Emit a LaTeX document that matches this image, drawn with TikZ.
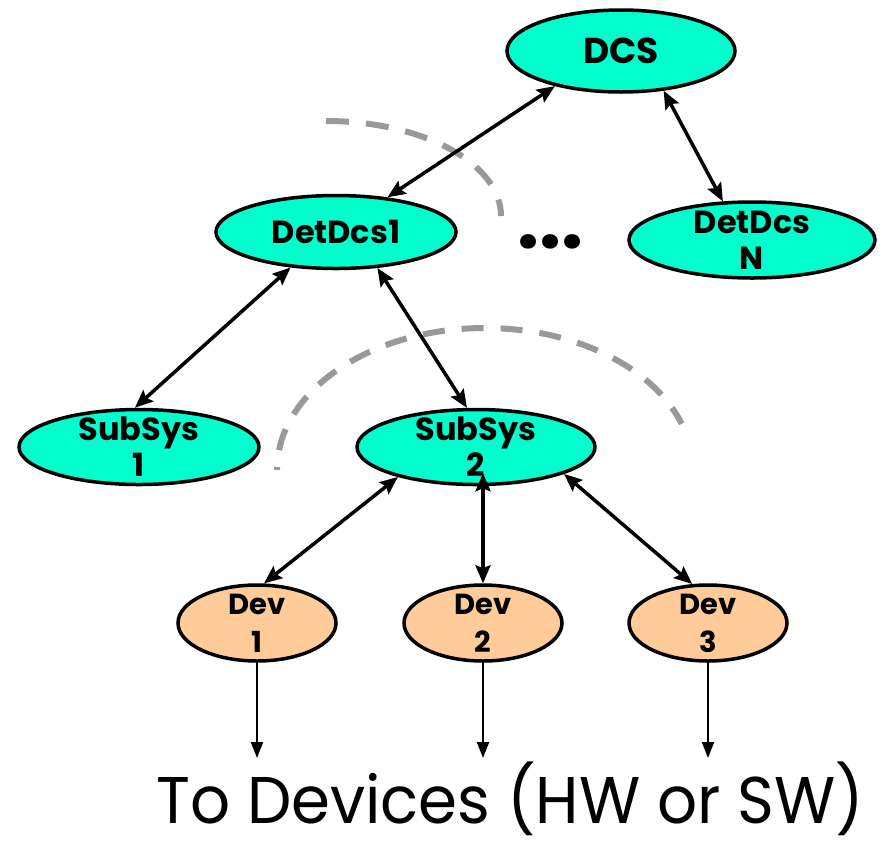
\documentclass[tikz,border=0pt]{standalone}
\usepackage{fontspec}
\setmainfont{Poppins}
\usetikzlibrary{arrows.meta,shapes.geometric}

\definecolor{aqua}{RGB}{0,255,204}
\definecolor{peach}{RGB}{255,204,153}
\definecolor{sepgray}{RGB}{153,153,153}

\begin{document}
\begin{tikzpicture}[x=1pt,y=-1pt,
  ctl/.style={ellipse, draw=black, line width=3.5pt, fill=aqua, align=center,
    inner xsep=0pt, inner ysep=-14pt,
    font=\fontsize{32}{36}\selectfont\bfseries},
  devbox/.style={ellipse, draw=black, line width=3.5pt, fill=peach, align=center,
    inner xsep=0pt, inner ysep=-14pt, minimum width=158pt, minimum height=76pt,
    font=\fontsize{29}{38}\selectfont\bfseries},
  link/.style={line width=3.5pt,
    {Stealth[length=18pt,width=15pt,inset=3pt]}-{Stealth[length=18pt,width=15pt,inset=3pt]}},
  feed/.style={line width=2pt, -{Triangle[length=16pt,width=12pt]}},
  boundary/.style={draw=sepgray, line width=6pt},
]
\useasboundingbox (0,0) rectangle (885,844);

% layer boundaries (dashed arcs)
\draw[boundary, dash pattern=on 23pt off 17pt]
  (326,121) arc[start angle=-90, end angle=0, x radius=175, y radius=95];
\draw[boundary, dash pattern=on 22pt off 17pt, dash phase=19pt]
  (277,470) arc[start angle=180, end angle=341, x radius=208, y radius=142];

% control hierarchy
\node[ctl, minimum width=228pt, minimum height=82pt, font=\fontsize{36}{40}\selectfont\bfseries] (dcs) at (621,51) {DCS};
\node[ctl, minimum width=240pt, minimum height=73pt] (det1) at (336,232) {DetDcs1};
\node[ctl, minimum width=246pt, minimum height=76pt] (detN) at (752,240) {DetDcs\\N};
\node[ctl, minimum width=240pt, minimum height=75pt] (ss1) at (139,447) {SubSys\\1};
\node[ctl, minimum width=238pt, minimum height=75pt] (ss2) at (476,447) {SubSys\\2};

\node[anchor=base, font=\fontsize{78}{80}\selectfont\bfseries] (dots) at (550,248) {...};

% devices
\node[devbox] (dev1) at (257,623) {Dev\\1};
\node[devbox] (dev2) at (483,623) {Dev\\2};
\node[devbox] (dev3) at (708,623) {Dev\\3};

% command / state links
\draw[link] (dcs.208) -- (det1.34);
\draw[link] (dcs.317) -- (detN.127);
\draw[link] (det1.218) -- (ss1.96);
\draw[link] (det1.319) -- (ss2.103);
\draw[link] (ss2.201) -- (dev1.80);
\draw[link, shorten <=-13pt] (ss2.south -| dev2.north) -- (dev2.north);
\draw[link] (ss2.343) -- (dev3.112);

% outputs to hardware / software
\coordinate (out1) at (257,758);
\coordinate (out2) at (483,758);
\coordinate (out3) at (708,758);
\draw[feed] (dev1.south) -- (out1);
\draw[feed] (dev2.south) -- (out2);
\draw[feed] (dev3.south) -- (out3);

\node[anchor=base, inner sep=0pt, xscale=0.95, font=\fontsize{66}{76}\selectfont] (caption) at (510,823) {To Devices (HW or SW)};
\end{tikzpicture}
\end{document}
